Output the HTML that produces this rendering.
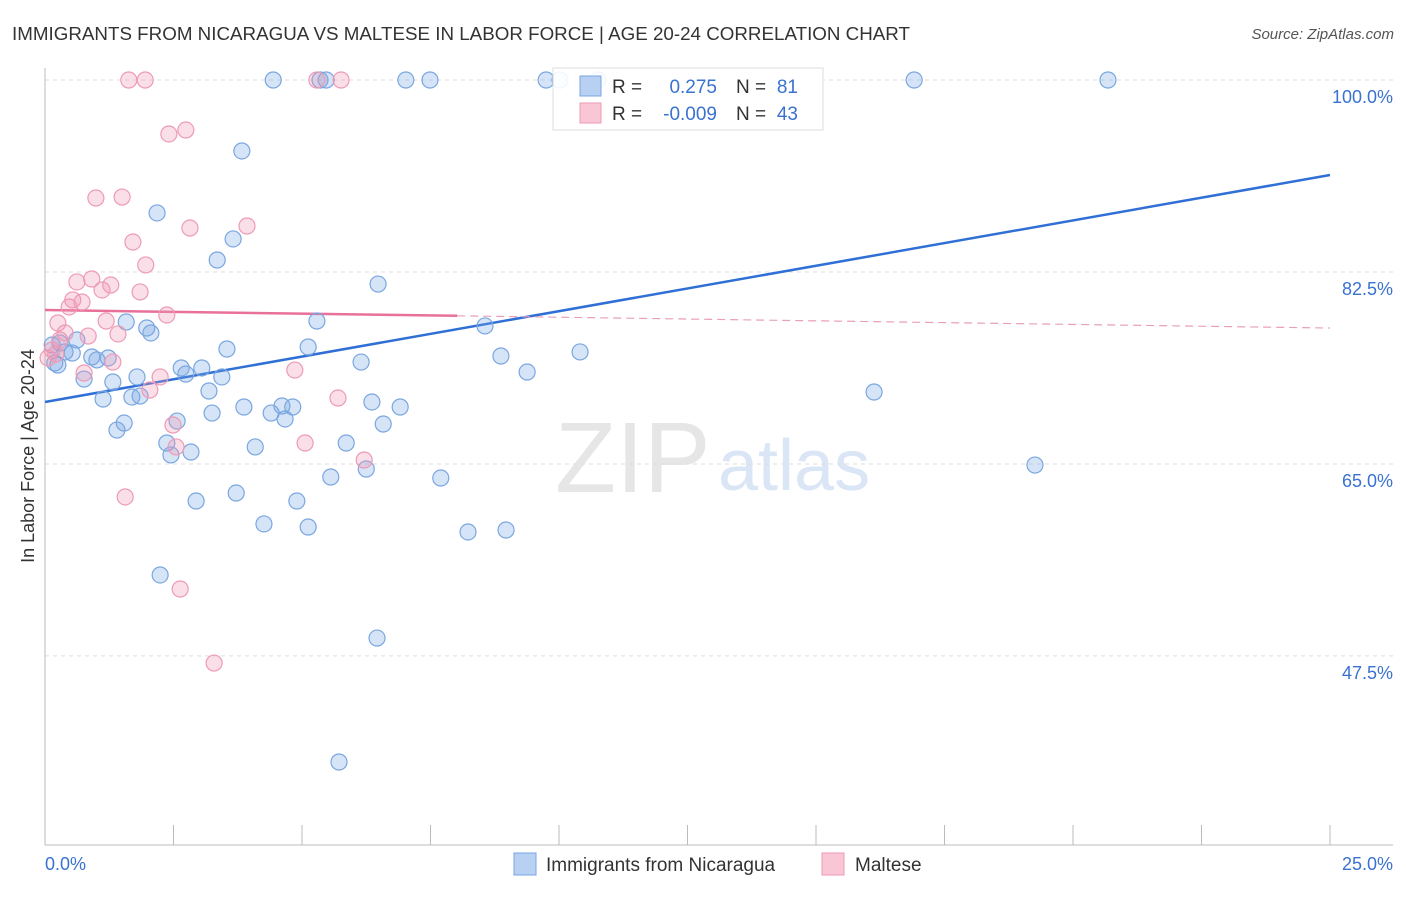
<!DOCTYPE html>
<html><head><meta charset="utf-8"><style>
body{margin:0;background:#fff;font-family:"Liberation Sans",sans-serif;}
svg text{font-family:"Liberation Sans",sans-serif;}
</style></head><body>
<svg width="1406" height="892" xmlns="http://www.w3.org/2000/svg">
<text x="12" y="40" font-size="18" fill="#333" textLength="898" lengthAdjust="spacingAndGlyphs">IMMIGRANTS FROM NICARAGUA VS MALTESE IN LABOR FORCE | AGE 20-24 CORRELATION CHART</text>
<text x="1394" y="39" font-size="15" fill="#555" font-style="italic" text-anchor="end">Source: ZipAtlas.com</text>
<text x="555" y="492" font-size="100" fill="#e6e6e6" font-family="Liberation Serif">ZIP</text>
<text x="718" y="490" font-size="72" fill="#dae6f6">atlas</text>
<g id="grid"></g>
<g id="axes"></g>
<text transform="translate(34,456) rotate(-90)" font-size="18" fill="#333" text-anchor="middle">In Labor Force | Age 20-24</text>
<text x="45" y="870" font-size="18" fill="#3a72d0">0.0%</text>
<text x="1393" y="870" font-size="18" fill="#3a72d0" text-anchor="end">25.0%</text>
<g id="lines"></g>
<g id="points"></g>
<g>
<rect x="553" y="68" width="270" height="62" fill="#fff" fill-opacity="0.9" stroke="#ddd"/>
<rect x="580" y="76" width="21" height="20" fill="#b8d0f2" stroke="#7aa6e0"/>
<rect x="580" y="103" width="21" height="20" fill="#f9c6d6" stroke="#ee9ab5"/>
<text x="612" y="93" font-size="19" fill="#333">R =</text>
<text x="717" y="93" font-size="19" fill="#3a72d0" text-anchor="end">0.275</text>
<text x="736" y="93" font-size="19" fill="#333">N =</text>
<text x="798" y="93" font-size="19" fill="#3a72d0" text-anchor="end">81</text>
<text x="612" y="120" font-size="19" fill="#333">R =</text>
<text x="717" y="120" font-size="19" fill="#3a72d0" text-anchor="end">-0.009</text>
<text x="736" y="120" font-size="19" fill="#333">N =</text>
<text x="798" y="120" font-size="19" fill="#3a72d0" text-anchor="end">43</text>
</g>
<g>
<rect x="514" y="853" width="22" height="22" fill="#b8d0f2" stroke="#7aa6e0"/>
<text x="546" y="871" font-size="19" fill="#333">Immigrants from Nicaragua</text>
<rect x="822" y="853" width="22" height="22" fill="#f9c6d6" stroke="#ee9ab5"/>
<text x="855" y="871" font-size="19" fill="#333">Maltese</text>
</g>
</svg>
<script>
const yTicks=[100,82.5,65,47.5];
const yTickLabels=["100.0%","82.5%","65.0%","47.5%"];
const blueX=[4.44,5.35,5.47,7.02,7.49,9.75,10.02,10.76,16.91,20.68,3.83,2.18,3.66,3.35,6.48,1.58,5.29,1.98,2.06,8.56,0.62,0.14,0.29,0.39,0.53,0.19,0.25,0.91,1.01,1.23,3.54,5.12,6.15,8.87,10.41,0.76,1.32,1.79,2.65,2.74,3.05,3.44,3.19,1.13,1.69,1.85,3.87,4.40,4.61,4.82,4.67,3.25,6.36,6.91,9.38,16.13,2.57,1.54,1.40,6.58,2.37,2.45,2.84,4.09,5.86,5.56,6.25,7.70,3.72,2.94,4.90,4.26,5.12,8.23,8.97,2.24,6.46,19.26,5.72];
const blueY=[100,100,100,100,100,100,100,100,100,100,93.53,87.88,85.51,83.59,81.40,77.94,78.03,77.39,76.94,77.58,76.30,75.84,76.03,75.21,75.11,74.20,74.02,74.75,74.48,74.66,75.48,75.66,74.29,74.84,75.21,72.74,72.47,72.93,73.75,73.20,73.75,72.93,71.65,70.92,71.10,71.19,70.19,69.64,70.28,70.19,69.10,69.64,70.65,70.19,73.38,71.56,68.91,68.73,68.09,68.64,66.91,65.82,66.09,66.55,66.91,63.81,64.54,63.72,62.35,61.62,61.62,59.53,59.25,58.80,58.98,54.88,49.13,64.90,37.83];
const pinkX=[1.63,1.95,5.29,5.76,2.74,2.41,0.99,1.50,2.82,3.93,1.71,1.96,0.62,0.91,1.28,1.11,1.85,0.54,0.72,0.47,2.37,1.19,0.25,0.39,0.84,1.42,0.29,0.14,0.06,0.21,1.32,0.76,2.24,2.04,4.86,5.70,2.49,2.55,5.06,6.21,1.56,2.63,3.29];
const pinkY=[100,100,100,100,95.44,95.08,89.24,89.33,86.51,86.69,85.23,83.14,81.59,81.86,81.31,80.86,80.68,79.95,79.76,79.31,78.58,78.03,77.85,76.94,76.66,76.85,76.30,75.39,74.66,75.02,74.29,73.29,72.93,71.74,73.56,71.01,68.55,66.55,66.91,65.36,61.99,53.60,46.85];
const blueTrend=[70.65,91.34];
const pinkTrend=[79.03,77.39];
const pinkSolidEnd=8.02;
const NS="http://www.w3.org/2000/svg";
const sx=v=>45+v*51.4, sy=v=>80+(100-v)*10.97;
function mk(tag,at,parent){const e=document.createElementNS(NS,tag);for(const k in at)e.setAttribute(k,at[k]);document.getElementById(parent).appendChild(e);return e;}
yTicks.forEach((t,i)=>{
 const l=mk('line',{x1:45,x2:1393,y1:sy(t),y2:sy(t),stroke:'#ddd','stroke-dasharray':'4,4'},'grid');
 
 
 const tx=mk('text',{x:1393,y:sy(t)+23,'font-size':18,fill:'#3a72d0','text-anchor':'end'},'grid');
 tx.textContent=yTickLabels[i];
 
 
});
const ax=mk('line',{x1:45,x2:45,y1:68,y2:845,stroke:'#bbb'},'axes');


const bx=mk('line',{x1:45,x2:1393,y1:845,y2:845,stroke:'#bbb'},'axes');


for(let i=0;i<=10;i++){
 const t=mk('line',{x1:sx(i*2.5),x2:sx(i*2.5),y1:825,y2:845,stroke:'#bbb'},'axes');
 
 
}
function pts(X,Y,fill,stroke,name){X.forEach((x,i)=>{
 const c=mk('circle',{cx:sx(x),cy:sy(Y[i]),r:8,fill:fill,stroke:stroke,'stroke-width':1.2},'points');
 
 
});}
pts(blueX,blueY,'rgba(120,165,230,0.3)','#7aa6e0','point-nicaragua');
pts(pinkX,pinkY,'rgba(240,150,180,0.3)','#ee9ab5','point-maltese');
const bl=mk('line',{x1:sx(0),y1:sy(blueTrend[0]),x2:sx(25),y2:sy(blueTrend[1]),stroke:'#2f6fd6','stroke-width':2.5},'lines');


const py=x=>pinkTrend[0]+(pinkTrend[1]-pinkTrend[0])*x/25;
const pl=mk('line',{x1:sx(0),y1:sy(pinkTrend[0]),x2:sx(pinkSolidEnd),y2:sy(py(pinkSolidEnd)),stroke:'#e8709a','stroke-width':2.5},'lines');


const pd=mk('line',{x1:sx(pinkSolidEnd),y1:sy(py(pinkSolidEnd)),x2:sx(25),y2:sy(pinkTrend[1]),stroke:'#e8a0b8','stroke-width':1.2,'stroke-dasharray':'8,5'},'lines');


</script>
</body></html>
